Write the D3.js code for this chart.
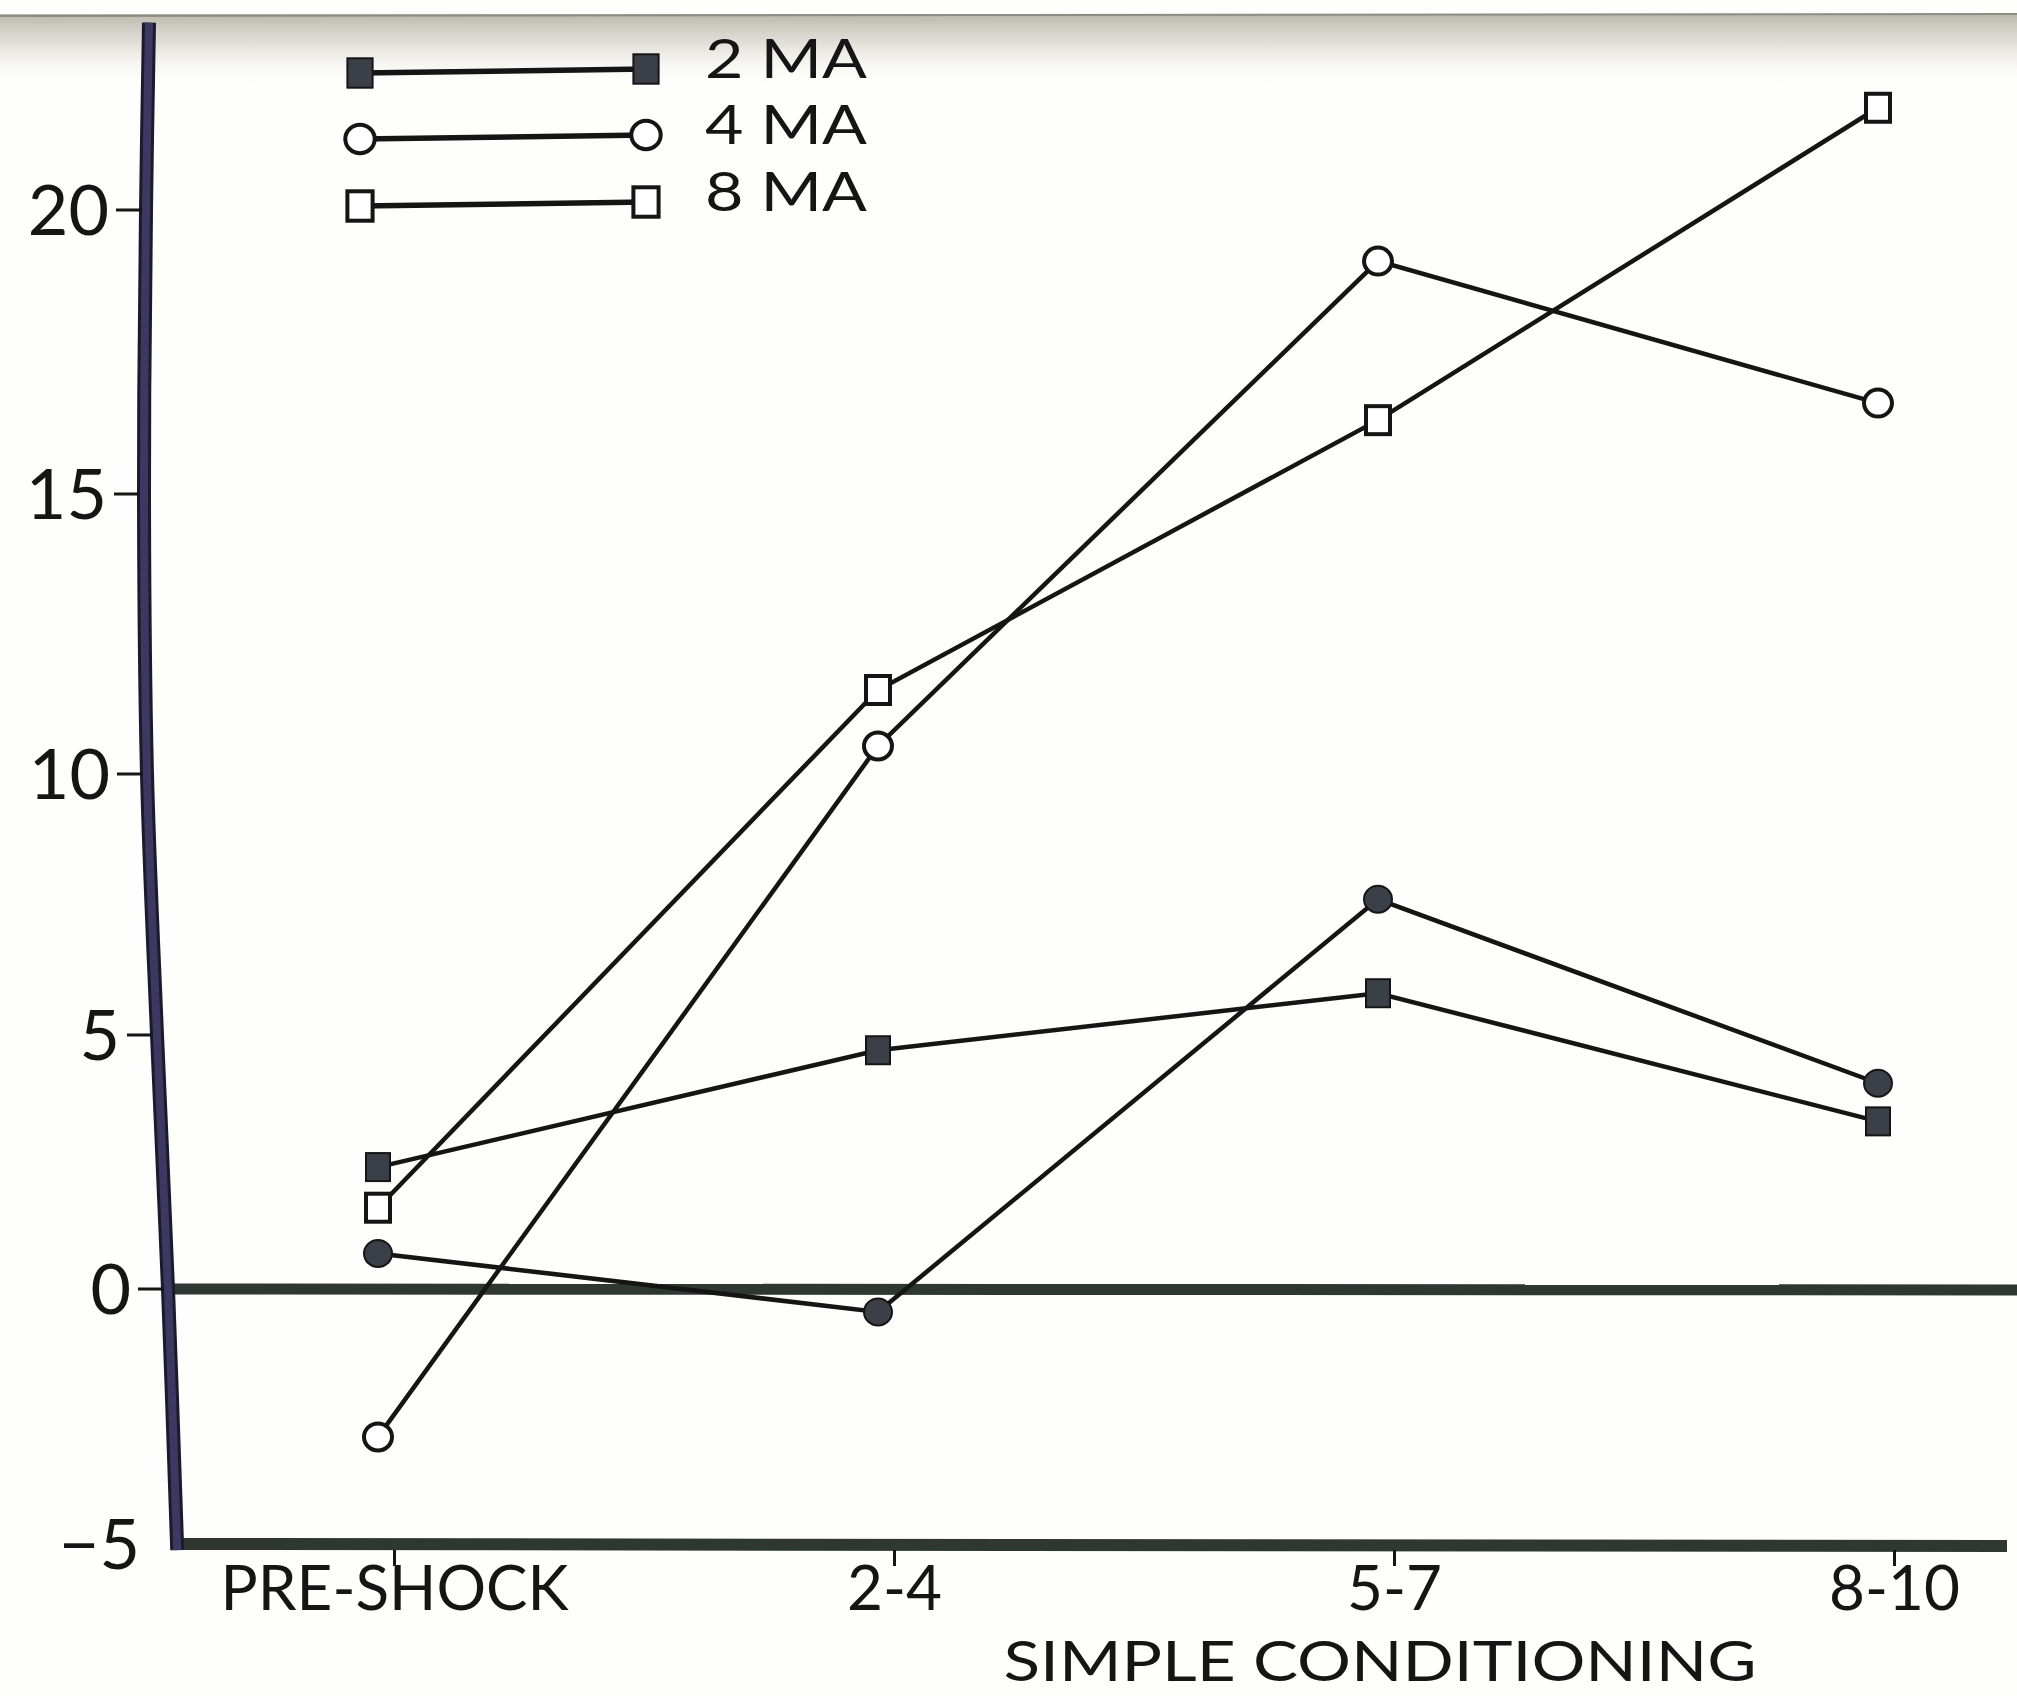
<!DOCTYPE html>
<html>
<head>
<meta charset="utf-8">
<script src="https://cdn.jsdelivr.net/npm/d3@7"></script>
<style>
  body { margin: 0; background: #ffffff; }
  svg { display: block; font-family: Lato, 'Open Sans', sans-serif; }
</style>
</head>
<body>
<div id="chart"></div>
<script>

// ---- data ----
const categories = ['PRE-SHOCK', '2-4', '5-7', '8-10'];
const ma2Values = [2.4, 4.7, 5.8, 3.3];        // filled squares
const ma4Values = [-2.9, 10.5, 19.1, 16.6];    // open circles
const ma8Values = [1.6, 11.5, 16.3, 21.8];     // open squares
const dotValues = [0.7, -0.45, 7.6, 4.05];     // filled circles (not in legend)
const yTicks = [-5, 0, 5, 10, 15, 20];
const legendLabels = ['2 MA', '4 MA', '8 MA'];
const xTitle = 'SIMPLE CONDITIONING';


const width = 2017;
const height = 1696;
const ink = '#151515';
const markFill = '#3b3f47';
const axisInk = '#2f3733';

const svg = d3.select('#chart')
  .append('svg')
    .attr('width', width)
    .attr('height', height)
    .style('background-color', '#fefefc');

// scanner shadow along the top edge
const defs = svg.append('defs');
const grad = defs.append('linearGradient')
  .attr('id', 'topShade')
  .attr('x1', 0).attr('y1', 0).attr('x2', 0).attr('y2', 1);
grad.append('stop').attr('offset', 0).attr('stop-color', '#b3b0a4').attr('stop-opacity', 0.9);
grad.append('stop').attr('offset', 0.4).attr('stop-color', '#d6d4ca').attr('stop-opacity', 0.7);
grad.append('stop').attr('offset', 1).attr('stop-color', '#ffffff').attr('stop-opacity', 0);
svg.append('rect')
  .attr('x', 0).attr('y', 14)
  .attr('width', width).attr('height', 75)
  .style('fill', 'url(#topShade)');
svg.append('line')
  .attr('x1', 0).attr('x2', width)
  .attr('y1', 16).attr('y2', 14)
  .style('stroke', '#8d8b82')
  .style('stroke-width', 2);


// scales (the hand drawn y axis is not evenly spaced, so use a polylinear scale)
const x = d3.scalePoint()
  .domain(categories)
  .range([394, 1894]);
const markShift = -16; // points sit a little left of the x ticks

const y = d3.scaleLinear()
  .domain(yTicks)
  .range([1544, 1289, 1035, 774, 494, 210]);

// the y axis line leans a bit to the right near the bottom
const axisX = d3.scaleLinear()
  .domain([-5, 0, 5, 10, 15, 20, 23.3])
  .range([177, 168, 157, 147, 144, 146, 149]);


// zero reference line
svg.append('line')
  .attr('x1', axisX(0)).attr('x2', width)
  .attr('y1', y(0)).attr('y2', y(0) + 1)
  .style('stroke', axisInk)
  .style('stroke-width', 11);

// x axis line
svg.append('line')
  .attr('x1', axisX(-5) - 6).attr('x2', 2007)
  .attr('y1', y(-5)).attr('y2', y(-5) + 2)
  .style('stroke', axisInk)
  .style('stroke-width', 12);

// x axis ticks + labels
const xAxis = svg.append('g')
  .attr('transform', 'translate(0,' + (y(-5) + 6) + ')')
  .call(d3.axisBottom(x).tickSize(16).tickPadding(0))
  .attr('font-family', null)
  .attr('font-size', null);
xAxis.select('.domain').remove();
xAxis.selectAll('.tick line')
  .style('stroke', ink)
  .style('stroke-width', 3);
xAxis.selectAll('.tick text')
  .style('font-size', '62px')
  .style('fill', ink);

// x axis title
svg.append('text')
  .attr('x', 1380)
  .attr('y', 1681)
  .attr('text-anchor', 'middle')
  .attr('textLength', 753)
  .attr('lengthAdjust', 'spacingAndGlyphs')
  .style('font-size', '57px')
  .style('fill', ink)
  .text(xTitle);


// y axis (curved, thick)
const axisLine = d3.line()
  .x(v => axisX(v))
  .y(v => y(v))
  .curve(d3.curveCatmullRom);
const axisPts = [-5.12, 0, 5, 10, 15, 20, 23.3];
svg.append('path')
  .attr('d', axisLine(axisPts))
  .style('fill', 'none')
  .style('stroke', '#1c1a2c')
  .style('stroke-width', 14);
svg.append('path')
  .attr('d', axisLine(axisPts))
  .style('fill', 'none')
  .style('stroke', '#3d3860')
  .style('stroke-width', 8);

const yTickG = svg.append('g')
  .selectAll('g')
  .data(yTicks)
  .enter()
  .append('g');
yTickG.filter(d => d > -5)
  .append('line')
  .attr('x1', d => axisX(d) - 30)
  .attr('x2', d => axisX(d) - 4)
  .attr('y1', d => y(d))
  .attr('y2', d => y(d))
  .style('stroke', ink)
  .style('stroke-width', 3);
yTickG.append('text')
  .attr('x', d => axisX(d) - 37)
  .attr('y', d => y(d))
  .attr('dy', '0.36em')
  .attr('text-anchor', 'end')
  .style('font-size', '70px')
  .style('fill', ink)
  .text(d => d3.format('d')(d));


// series
const series = [
  { values: ma2Values, shape: 'square', filled: true },
  { values: ma4Values, shape: 'circle', filled: false },
  { values: ma8Values, shape: 'square', filled: false },
  { values: dotValues, shape: 'circle', filled: true }
];

const line = d3.line()
  .x((d, i) => x(categories[i]) + markShift)
  .y(d => y(d));

svg.append('g')
  .selectAll('path')
  .data(series)
  .enter()
  .append('path')
    .attr('d', s => line(s.values))
    .style('fill', 'none')
    .style('stroke', ink)
    .style('stroke-width', 4.5);

function drawMarker(g, s, cx, cy, big) {
  const k = big ? 1.05 : 1;
  if (s.shape === 'square') {
    g.append('rect')
      .attr('x', cx - 12 * k)
      .attr('y', cy - 14 * k)
      .attr('width', 24 * k)
      .attr('height', 28 * k)
      .style('fill', s.filled ? markFill : '#ffffff')
      .style('stroke', ink)
      .style('stroke-width', s.filled ? 2 : 4);
  } else {
    g.append('ellipse')
      .attr('cx', cx)
      .attr('cy', cy)
      .attr('rx', 14 * k)
      .attr('ry', 13.5 * k)
      .style('fill', s.filled ? markFill : '#ffffff')
      .style('stroke', ink)
      .style('stroke-width', s.filled ? 2 : 4);
  }
}

const markG = svg.append('g');
series.forEach(s => {
  s.values.forEach((v, i) => {
    drawMarker(markG, s, x(categories[i]) + markShift, y(v), false);
  });
});


// legend
const legendRowsY = [72, 138, 205];
const legendG = svg.append('g');
legendLabels.forEach((label, i) => {
  const s = series[i];
  const ly = legendRowsY[i];
  legendG.append('line')
    .attr('x1', 360).attr('x2', 647)
    .attr('y1', ly + 1).attr('y2', ly - 3)
    .style('stroke', ink)
    .style('stroke-width', 5.5);
  drawMarker(legendG, s, 360, ly + 1, true);
  drawMarker(legendG, s, 646, ly - 3, true);
  legendG.append('text')
    .attr('x', 705)
    .attr('y', ly + 6)
    .attr('textLength', 162)
    .attr('lengthAdjust', 'spacingAndGlyphs')
    .style('font-size', '55px')
    .style('fill', ink)
    .text(label);
});

</script>
</body>
</html>
